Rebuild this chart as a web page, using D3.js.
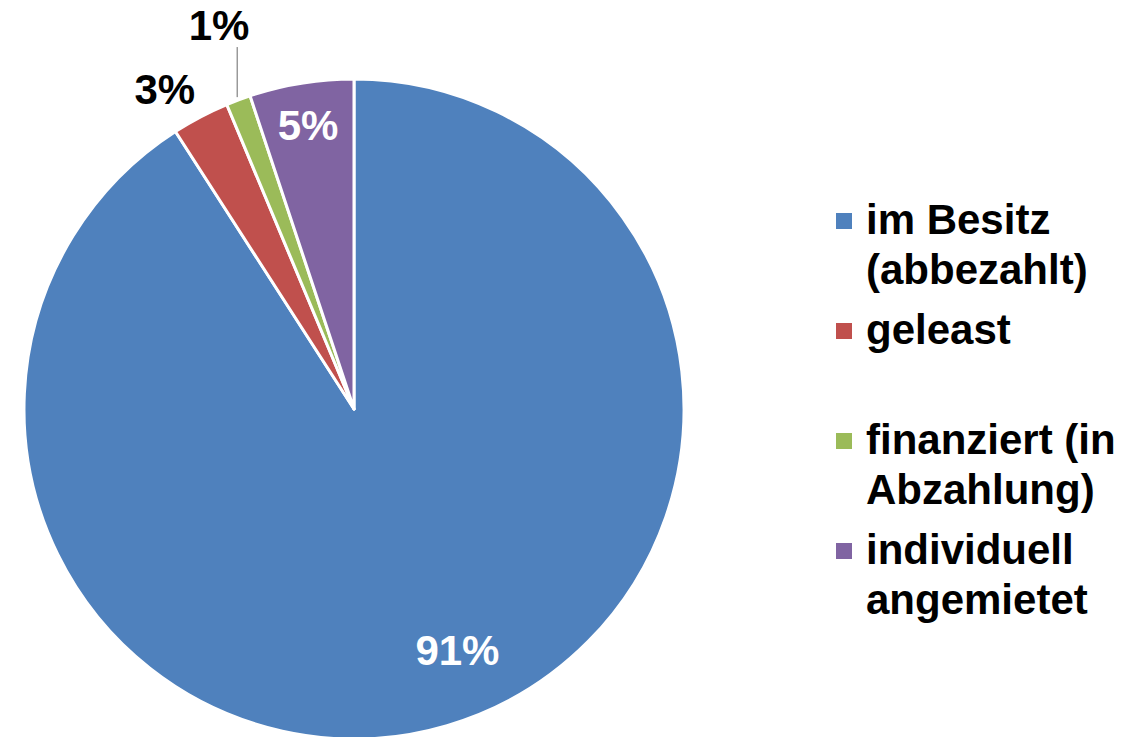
<!DOCTYPE html>
<html>
<head>
<meta charset="utf-8">
<script src="https://cdn.jsdelivr.net/npm/d3@7"></script>
<style>
  html, body { margin: 0; padding: 0; background: #fff; }
  svg { display: block; font-family: "Liberation Sans", Arial, sans-serif; font-weight: bold; }
</style>
</head>
<body>
<svg id="chart" width="1137" height="737"></svg>
<script>
// data
const categories = ['im Besitz (abbezahlt)', 'geleast', 'finanziert (in Abzahlung)', 'individuell angemietet'];
const shares = [90.9, 2.8, 1.2, 5.1];
const labels = ['91%', '3%', '1%', '5%'];
// legend text split into lines as shown
const legendLines = [
    ['im Besitz', '(abbezahlt)'],
    ['geleast', ''],
    ['finanziert (in', 'Abzahlung)'],
    ['individuell', 'angemietet']
];
const colors = ['#4F81BD', '#C0504D', '#9BBB59', '#8064A2'];

const svg = d3.select('#chart');
const cx = 354, cy = 409, radius = 330;

const pie = d3.pie().sort(null).value(d => d)(shares);
const arc = d3.arc().innerRadius(0).outerRadius(radius);

const g = svg.append('g').attr('transform', `translate(${cx},${cy})`);

g.selectAll('path.slice')
    .data(pie)
    .join('path')
    .attr('class', 'slice')
    .attr('d', arc)
    .attr('fill', (d, i) => colors[i])
    .attr('stroke', '#fff')
    .attr('stroke-width', 3)
    .attr('stroke-linejoin', 'round');

// label placement: inside for big slices, outside for the small ones
const labelRadius = [262, 372, 407, 288];
const labelAngleShift = [-0.12, -0.05, 0.02, 0];

const pos = (d, i) => {
    const a = (d.startAngle + d.endAngle) / 2 + labelAngleShift[i];
    const r = labelRadius[i];
    return [r * Math.sin(a), -r * Math.cos(a)];
};

// leader line for the 1% slice
const small = pie[2];
const leaderAngle = (small.startAngle + small.endAngle) / 2;
const lx = (radius + 3) * Math.sin(leaderAngle);
g.append('line')
    .attr('x1', lx).attr('x2', lx)
    .attr('y1', -(radius + 3) * Math.cos(leaderAngle))
    .attr('y2', pos(small, 2)[1] + 22)
    .attr('stroke', '#999')
    .attr('stroke-width', 1.5);

g.selectAll('text.pct')
    .data(pie)
    .join('text')
    .attr('class', 'pct')
    .attr('x', (d, i) => pos(d, i)[0])
    .attr('y', (d, i) => pos(d, i)[1])
    .attr('dy', '0.36em')
    .attr('text-anchor', 'middle')
    .attr('font-size', 42)
    .attr('fill', (d, i) => (i === 0 || i === 3) ? '#fff' : '#000')
    .text((d, i) => labels[i]);

// legend
const legend = svg.append('g').attr('transform', 'translate(836,234)');
const rowStep = 110, lineStep = 50;

const items = legend.selectAll('g.item')
    .data(categories)
    .join('g')
    .attr('class', 'item')
    .attr('transform', (d, i) => `translate(0,${i * rowStep})`);

items.append('rect')
    .attr('x', 0).attr('y', -21)
    .attr('width', 16).attr('height', 16)
    .attr('fill', (d, i) => colors[i]);

items.each(function(d, i) {
    const t = d3.select(this).append('text')
        .attr('x', 30)
        .attr('font-size', 42)
        .attr('fill', '#000');
    legendLines[i].forEach((line, j) => {
        t.append('tspan').attr('x', 30).attr('y', j * lineStep).text(line);
    });
});
</script>
</body>
</html>
